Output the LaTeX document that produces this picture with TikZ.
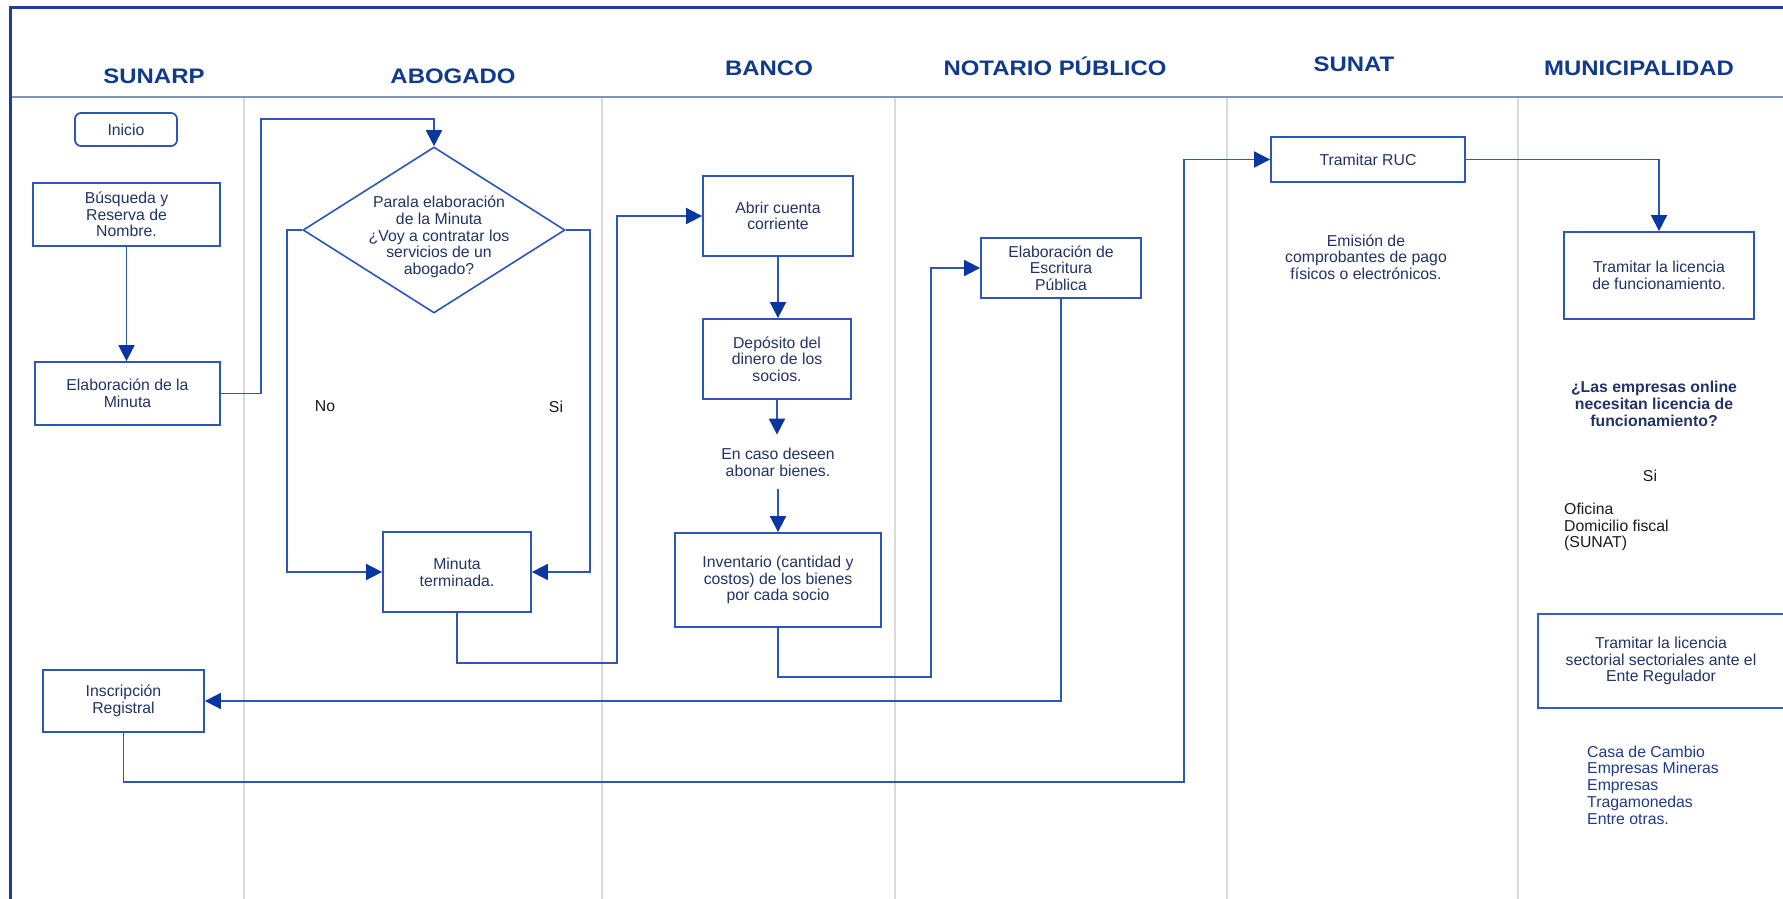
\documentclass[tikz,border=0pt]{standalone}
\usepackage{fontspec}
\setmainfont{Liberation Sans}
\usepackage{graphicx}
\usetikzlibrary{arrows.meta,shapes.geometric,calc}
\definecolor{frameblue}{RGB}{27,62,156}
\definecolor{hdrblue}{RGB}{16,58,140}
\definecolor{lineblue}{RGB}{46,86,184}
\definecolor{tipblue}{RGB}{10,54,160}
\definecolor{boxtext}{RGB}{35,51,102}
\definecolor{divgray}{RGB}{218,218,218}
\definecolor{sepgray}{RGB}{133,148,180}
\definecolor{listblue}{RGB}{31,60,140}
\definecolor{offblack}{RGB}{26,26,26}
\definecolor{sectblue}{RGB}{50,92,205}
\newcommand\dgbody{\fontsize{15.8}{16.7}\selectfont}
\newcommand\dghdr{\bfseries\fontsize{21}{25}\selectfont}
\newcommand\hdrtxt[1]{\scalebox{1.14}[1]{#1}}
\tikzset{
  proc/.style={draw=lineblue, line width=1.8pt, fill=white, inner sep=0pt,
    align=center, text=boxtext, font=\dgbody},
  startbox/.style={proc, rounded corners=6pt},
  diam/.style={shape=diamond, draw=lineblue, line width=1.6pt, inner sep=0pt,
    minimum width=262pt, minimum height=166pt},
  txt/.style={inner sep=0pt, align=center, text=boxtext, font=\dgbody},
  blacktxt/.style={inner sep=0pt, text=offblack, font=\dgbody},
  hdr/.style={anchor=base, inner sep=0pt, text=hdrblue, font=\dghdr},
  conn/.style={draw=lineblue, line width=1.8pt},
  arr/.style={conn, -{Triangle[length=16pt,width=16pt,color=tipblue]}},
  divider/.style={draw=divgray, line width=1.5pt},
  sepline/.style={draw=sepgray, line width=2pt},
  frameline/.style={draw=frameblue, line width=3pt}
}
\begin{document}
\begin{tikzpicture}[x=1pt,y=-1pt]
\useasboundingbox (0,0) rectangle (1783,899);
\fill[white] (0,0) rectangle (1783,899);
\clip (0,0) rectangle (1783,899);

% lanes
\foreach \xx in {244,602,895,1227,1518} \draw[divider] (\xx,98) -- (\xx,905);
\draw[sepline] (10,97) -- (1790,97);
\draw[frameline] (10,910) -- (10,8) -- (1790,8);

% headers
\node[hdr] (hsunarp) at (154,84) {\hdrtxt{SUNARP}};
\node[hdr] (habog) at (453,84) {\hdrtxt{ABOGADO}};
\node[hdr] (hbanco) at (769,75) {\hdrtxt{BANCO}};
\node[hdr] (hnot) at (1055,76) {\hdrtxt{NOTARIO PÚBLICO}};
\node[hdr] (hsunat) at (1354,72) {\hdrtxt{SUNAT}};
\node[hdr] (hmuni) at (1639,76) {\hdrtxt{MUNICIPALIDAD}};

% SUNARP
\node[startbox, minimum width=102pt, minimum height=33pt] (inicio) at (126,129.5) {Inicio};
\node[proc, minimum width=187pt, minimum height=63pt] (busq) at (126.5,214.5) {Búsqueda y\\Reserva de\\Nombre.};
\node[proc, minimum width=185pt, minimum height=63pt] (elab) at (127.5,393.5) {Elaboración de la\\Minuta};
\node[proc, minimum width=161pt, minimum height=62pt] (inscr) at (123.5,701) {Inscripción\\Registral};

% ABOGADO
\node[diam] (dia) at (434,230) {};
\node[txt] (diatext) at (439,237) {Parala elaboración\\de la Minuta\\¿Voy a contratar los\\servicios de un\\abogado?};
\node[blacktxt] (lblno) at (325,406) {No};
\node[blacktxt] (lblsi) at (556,407) {Si};
\node[proc, minimum width=148pt, minimum height=80pt] (minuta) at (457,572) {Minuta\\terminada.};

% BANCO
\node[proc, minimum width=150pt, minimum height=80pt] (abrir) at (778,216) {Abrir cuenta\\corriente};
\node[proc, minimum width=148pt, minimum height=80pt] (depos) at (777,359) {Depósito del\\dinero de los\\socios.};
\node[txt, inner ysep=13pt] (encaso) at (778,462) {En caso deseen\\abonar bienes.};
\node[proc, minimum width=206pt, minimum height=94pt] (invent) at (778,580) {Inventario (cantidad y\\costos) de los bienes\\por cada socio};

% NOTARIO
\node[proc, minimum width=160pt, minimum height=60pt] (escrit) at (1061,268) {Elaboración de\\Escritura\\Pública};

% SUNAT
\node[proc, minimum width=194pt, minimum height=45pt] (ruc) at (1368,159.5) {Tramitar RUC};
\node[txt] (emision) at (1366,257) {Emisión de\\comprobantes de pago\\físicos o electrónicos.};

% MUNICIPALIDAD
\node[proc, minimum width=190pt, minimum height=87pt] (lic) at (1659,275.5) {Tramitar la licencia\\de funcionamiento.};
\node[txt, font=\dgbody\bfseries] (preg) at (1654,404) {¿Las empresas online\\necesitan licencia de\\funcionamiento?};
\node[blacktxt] (lblsi2) at (1650,476) {Si};
\node[blacktxt, align=left, anchor=west] (ofic) at (1564,527) {Oficina\\Domicilio fiscal\\(SUNAT)};
\node[proc, draw=sectblue, line width=1.6pt, minimum width=246pt, minimum height=94pt] (sect) at (1661,661) {Tramitar la licencia\\sectorial sectoriales ante el\\Ente Regulador};
\node[txt, align=left, anchor=west, text=listblue] (casa) at (1587,785) {Casa de Cambio\\Empresas Mineras\\Empresas\\Tragamonedas\\Entre otras.};

% connectors
\draw[arr] (busq.south) -- (busq.south |- elab.north);
\draw[arr] (elab.east) -- (261,393.5) -- (261,119) -| (dia.north);
\draw[arr] (dia.west) -- (287,230) |- (minuta.west);
\draw[arr] (dia.east) -- (590,230) |- (minuta.east);
\draw[arr] (minuta.south) |- (617,663) |- (abrir.west);
\draw[arr] (abrir.south) -- (abrir.south |- depos.north);
\draw[arr] (depos.south) -- (depos.south |- encaso.north);
\draw[arr] (encaso.south) -- (encaso.south |- invent.north);
\draw[arr] (invent.south) |- (931,677) |- (escrit.west);
\draw[arr] (escrit.south) |- (inscr.east);
\draw[arr] (inscr.south) |- (1184,782) |- (ruc.west);
\draw[arr] (ruc.east) -| (lic.north);
\end{tikzpicture}
\end{document}
